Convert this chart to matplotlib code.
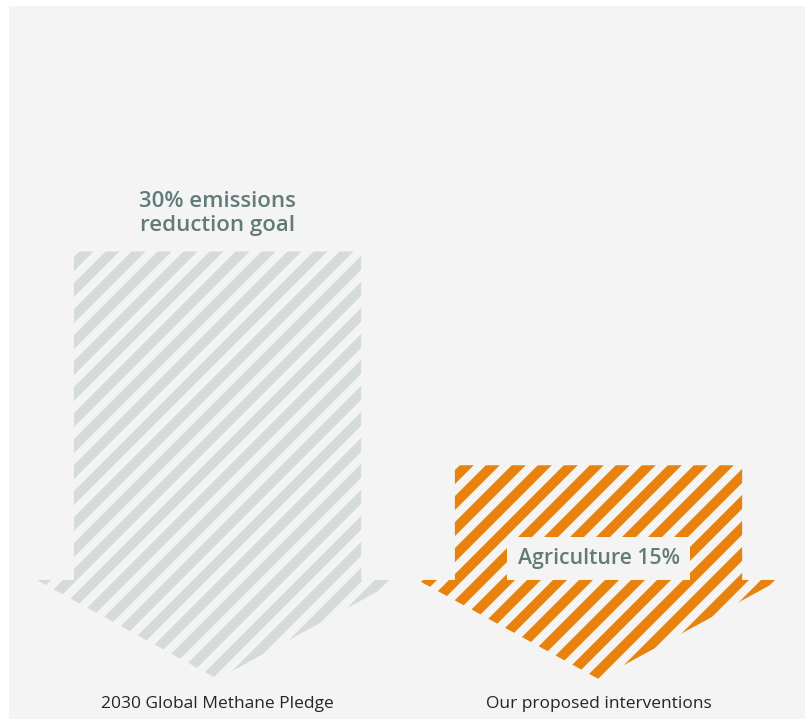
import numpy as np
import matplotlib
matplotlib.use("Agg")
import matplotlib.pyplot as plt
from matplotlib.patches import Polygon, Rectangle
from matplotlib.collections import PolyCollection
from matplotlib.transforms import IdentityTransform

# data
categories = ["2030 Global Methane Pledge", "Our proposed interventions"]
reductions = [30, 15]
arrow_labels = ["30% emissions\nreduction goal", "Agriculture 15%"]
stripe_colors = ["#d5dbd9", "#e8820c"]

BG = "#f3f4f3"
LABEL_COLOR = "#627b78"
TEXT_COLOR = "#1f2828"

plt.rcParams["font.family"] = ["Open Sans", "DejaVu Sans"]

# arrow shape (x in category units, y in % units)
SHAFT_HW = 0.377
HEAD_HW = 0.475
HEAD_LEN = 6.95
STRIPE_PERIOD = 26   # px, horizontal
STRIPE_WIDTH = 14    # px, horizontal

fig = plt.figure(figsize=(8.09, 7.19), dpi=100, facecolor="white")
ax = fig.add_axes([0, 0, 1, 1])
ax.set_xlim(-0.571, 1.5525)
ax.set_ylim(-2.807, 47.65)
ax.axis("off")

# light panel behind the chart
ax.add_patch(Rectangle((9, 0), 796, 713, transform=IdentityTransform(),
                       facecolor=BG, edgecolor="none", zorder=0))


def stripes(color, offset):
    polys = []
    for c in np.arange(-900, 900, STRIPE_PERIOD) + offset:
        x1, x2 = -50, 900
        polys.append([(x1, x1 + c), (x2, x2 + c),
                      (x2, x2 + c + STRIPE_WIDTH), (x1, x1 + c + STRIPE_WIDTH)])
    return PolyCollection(polys, facecolors=color, edgecolors="none",
                          transform=IdentityTransform(), zorder=2)


for i, (val, color) in enumerate(zip(reductions, stripe_colors)):
    x = i
    verts = [(x - SHAFT_HW, val), (x + SHAFT_HW, val), (x + SHAFT_HW, HEAD_LEN),
             (x + HEAD_HW, HEAD_LEN), (x, 0), (x - HEAD_HW, HEAD_LEN),
             (x - SHAFT_HW, HEAD_LEN)]
    arrow = Polygon(verts, closed=True, facecolor="none", edgecolor="none")
    ax.add_patch(arrow)
    coll = stripes(color, offset=i * 4)
    ax.add_collection(coll)
    coll.set_clip_path(arrow)

    ax.text(x, -1.75, categories[i], ha="center", va="center",
            fontsize=12.5, color=TEXT_COLOR)

ax.text(0, reductions[0] + 1.1, arrow_labels[0], ha="center", va="bottom",
        fontsize=16, fontweight="semibold", color=LABEL_COLOR, linespacing=1.2,
        zorder=3)
ax.text(1, HEAD_LEN + 1.5, arrow_labels[1], ha="center", va="center",
        fontsize=15.3, fontweight="semibold", color=LABEL_COLOR, zorder=3,
        bbox=dict(boxstyle="square,pad=0.5", facecolor=BG, edgecolor="none"))

fig.savefig("out.png", dpi=100, facecolor="white")
plt.close(fig)
